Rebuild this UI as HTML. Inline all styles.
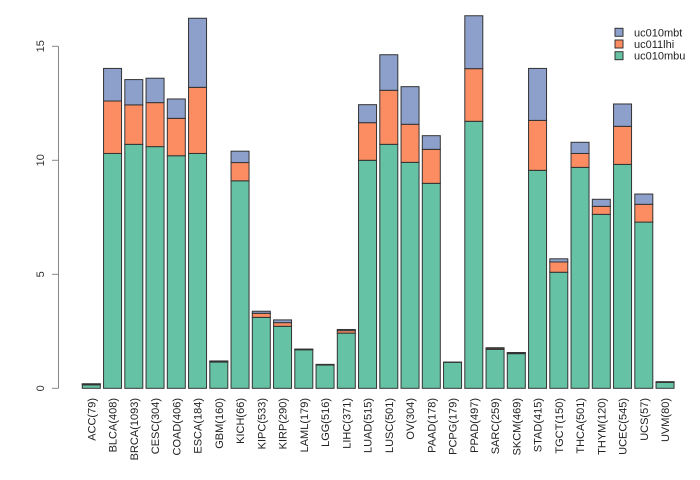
<!DOCTYPE html>
<html><head><meta charset="utf-8"><style>
html,body{margin:0;padding:0;background:#fff;}
svg{display:block;font-family:"Liberation Sans",sans-serif;}
</style></head><body>
<svg id="chart" width="700" height="480" viewBox="0 0 700 480" xmlns="http://www.w3.org/2000/svg"></svg>
<script>
const categories=["ACC(79)","BLCA(408)","BRCA(1093)","CESC(304)","COAD(406)","ESCA(184)","GBM(160)","KICH(66)","KIPC(533)","KIRP(290)","LAML(179)","LGG(516)","LIHC(371)","LUAD(515)","LUSC(501)","OV(304)","PAAD(178)","PCPG(179)","PPAD(497)","SARC(259)","SKCM(469)","STAD(415)","TGCT(150)","THCA(501)","THYM(120)","UCEC(545)","UCS(57)","UVM(80)"];
const uc010mbu=[0.15,10.3,10.7,10.6,10.2,10.3,1.15,9.1,3.11,2.72,1.69,1.02,2.42,10.0,10.7,9.91,8.99,1.14,11.71,1.71,1.52,9.56,5.09,9.69,7.63,9.82,7.29,0.26];
const uc011lhi=[0.03,2.3,1.73,1.93,1.64,2.9,0.03,0.8,0.18,0.16,0.02,0.02,0.11,1.65,2.37,1.67,1.49,0.01,2.31,0.05,0.03,2.19,0.45,0.61,0.35,1.67,0.78,0.02];
const uc010mbt=[0.02,1.43,1.11,1.07,0.85,3.03,0.02,0.5,0.09,0.12,0.01,0.01,0.05,0.79,1.56,1.65,0.6,0.0,2.32,0.02,0.02,2.28,0.14,0.49,0.31,0.98,0.45,0.01];
const yTicks=[0,5,10,15];
const seriesNames=["uc010mbt","uc011lhi","uc010mbu"];
const colors={uc010mbu:"#66c2a5",uc011lhi:"#fc8d62",uc010mbt:"#8da0cb"};

const NS="http://www.w3.org/2000/svg";
const svg=document.getElementById('chart');
const y0=388.3, ppu=22.8, x0=82.3, slot=21.25, bw=18;
const yS=v=>y0-v*ppu;
const xS=i=>x0+i*slot;
function mk(tag,attrs,parent){const e=document.createElementNS(NS,tag);for(const k in attrs)e.setAttribute(k,attrs[k]);(parent||svg).appendChild(e);return e;}

// y axis
const ax=mk('g',{});


const al=mk('line',{x1:58.5,x2:58.5,y1:yS(yTicks[0]),y2:yS(yTicks[yTicks.length-1]),stroke:'#888','stroke-width':1},ax);


yTicks.forEach(t=>{
  const tk=mk('line',{x1:52,x2:58.5,y1:yS(t),y2:yS(t),stroke:'#888','stroke-width':1},ax);
  
  
  const tx=mk('text',{x:0,y:0,transform:`translate(44,${yS(t)}) rotate(-90)`,'text-anchor':'middle','font-size':11,fill:'#333'},ax);
  tx.textContent=t;
  
  
});

// bars
categories.forEach((c,i)=>{
  const g=mk('g',{});
  
  
  let base=0;
  [["uc010mbu",uc010mbu],["uc011lhi",uc011lhi],["uc010mbt",uc010mbt]].forEach(([n,arr])=>{
    const v=arr[i];
    if(v<=0)return;
    const r=mk('rect',{x:xS(i),y:yS(base+v),width:bw,height:v*ppu,fill:colors[n],stroke:'#333','stroke-width':1},g);
    
    
    base+=v;
  });
  const lb=mk('text',{x:0,y:0,transform:`translate(${xS(i)+bw/2+4},398) rotate(-90)`,'text-anchor':'end','font-size':11,fill:'#222'});
  lb.textContent=c;
  
  
});

// legend
const lg=mk('g',{});


seriesNames.forEach((n,k)=>{
  const cy=32.3+k*11.7;
  const e=mk('g',{},lg);
  
  
  mk('rect',{x:615,y:cy-4,width:8,height:8,fill:colors[n],stroke:'#333','stroke-width':1},e);
  const t=mk('text',{x:634,y:cy+4,'font-size':11,fill:'#222'},e);
  t.textContent=n;
});
</script>
</body></html>
